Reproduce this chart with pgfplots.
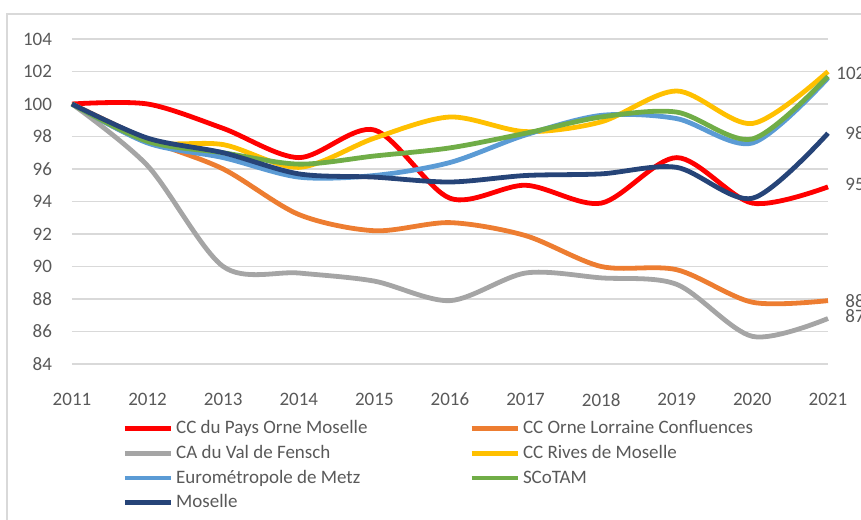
\documentclass[border=0pt]{standalone}
\usepackage{pgfplots}
\pgfplotsset{compat=1.18}
\usepackage{fontspec}
\setmainfont{Carlito}
\definecolor{cRed}{HTML}{FF0000}
\definecolor{cOrange}{HTML}{ED7D31}
\definecolor{cGray}{HTML}{A5A5A5}
\definecolor{cYellow}{HTML}{FFC000}
\definecolor{cLBlue}{HTML}{5B9BD5}
\definecolor{cGreen}{HTML}{70AD47}
\definecolor{cDBlue}{HTML}{264478}
\definecolor{txt}{HTML}{595959}
\definecolor{gridc}{HTML}{D9D9D9}

\begin{document}
\begin{tikzpicture}
\begin{axis}[
  scale only axis, width=378pt, height=162.5pt,
  xmin=2011, xmax=2021, ymin=84, ymax=104,
  xtick={2011,...,2021}, ytick={84,86,...,104},
  xticklabel style={/pgf/number format/1000 sep={}, yshift=-11pt},
  yticklabel style={xshift=-6.5pt},
  /pgf/number format/assume math mode=true,
  ticklabel style={font=\fontsize{9.5}{11}\selectfont, text=txt},
  major tick length=0pt, axis line style={draw=none},
  ymajorgrids, xmajorgrids=false, grid style={draw=gridc, line width=0.8pt},
  clip=false,
  every axis plot/.append style={line width=2.4pt, smooth, tension=0.5},
  legend columns=2, legend cell align=left,
  legend image code/.code={\draw[#1] (0pt,0pt) -- (23pt,0pt);},
  legend style={draw=none, fill=none, at={(0,0)}, anchor=north west,
    xshift=25pt, yshift=-27.5pt, inner sep=0pt, column sep=1.5pt, row sep=3.4pt,
    font=\fontsize{9.5}{11}\selectfont, text=txt,
    nodes={inner sep=0pt, text height=7pt, text depth=2pt}},
]
% CC du Pays Orne Moselle
\addplot[cRed] coordinates {(2011,100) (2012,100.0) (2013,98.5) (2014,96.7) (2015,98.4) (2016,94.2) (2017,95.0) (2018,93.9) (2019,96.7) (2020,93.9) (2021,94.9)};
\addlegendentry{\makebox[145pt][l]{CC du Pays Orne Moselle}}
% CC Orne Lorraine Confluences
\addplot[cOrange] coordinates {(2011,100) (2012,97.8) (2013,96.0) (2014,93.2) (2015,92.2) (2016,92.7) (2017,91.9) (2018,90.0) (2019,89.8) (2020,87.8) (2021,87.9)};
\addlegendentry{CC Orne Lorraine Confluences}
% CA du Val de Fensch
\addplot[cGray] coordinates {(2011,100) (2012,96.2) (2013,90.0) (2014,89.6) (2015,89.1) (2016,87.9) (2017,89.6) (2018,89.3) (2019,88.9) (2020,85.7) (2021,86.8)};
\addlegendentry{\makebox[145pt][l]{CA du Val de Fensch}}
% CC Rives de Moselle
\addplot[cYellow] coordinates {(2011,100) (2012,97.7) (2013,97.5) (2014,96.1) (2015,97.9) (2016,99.2) (2017,98.3) (2018,98.9) (2019,100.8) (2020,98.8) (2021,102.0)};
\addlegendentry{CC Rives de Moselle}
% Eurometropole de Metz
\addplot[cLBlue] coordinates {(2011,100) (2012,97.6) (2013,96.7) (2014,95.5) (2015,95.6) (2016,96.4) (2017,98.1) (2018,99.3) (2019,99.1) (2020,97.6) (2021,101.6)};
\addlegendentry{\makebox[145pt][l]{Eurométropole de Metz}}
% SCoTAM
\addplot[cGreen] coordinates {(2011,100) (2012,97.7) (2013,97.0) (2014,96.3) (2015,96.8) (2016,97.3) (2017,98.2) (2018,99.2) (2019,99.5) (2020,97.85) (2021,101.7)};
\addlegendentry{SCoTAM}
% Moselle
\addplot[cDBlue] coordinates {(2011,100) (2012,97.9) (2013,97.0) (2014,95.7) (2015,95.5) (2016,95.2) (2017,95.6) (2018,95.7) (2019,96.1) (2020,94.2) (2021,98.2)};
\addlegendentry{\makebox[145pt][l]{Moselle}}
\begin{scope}[every node/.style={anchor=west, inner sep=0pt, text=txt, font=\fontsize{9.5}{11}\selectfont}]
\node at (axis cs:2021.106,101.88) {102};
\node at (axis cs:2021.225,98.18) {98};
\node at (axis cs:2021.225,95.05) {95};
\node at (axis cs:2021.225,87.85) {88};
\node at (axis cs:2021.225,86.96) {87};
\end{scope}
\end{axis}
\draw[gridc, line width=1pt] (-32.5pt,-100pt) rectangle (430pt,175pt);
\pgfresetboundingbox
\path[use as bounding box] (-36pt,-77.5pt) rectangle (394.5pt,182pt);
\end{tikzpicture}
\end{document}
